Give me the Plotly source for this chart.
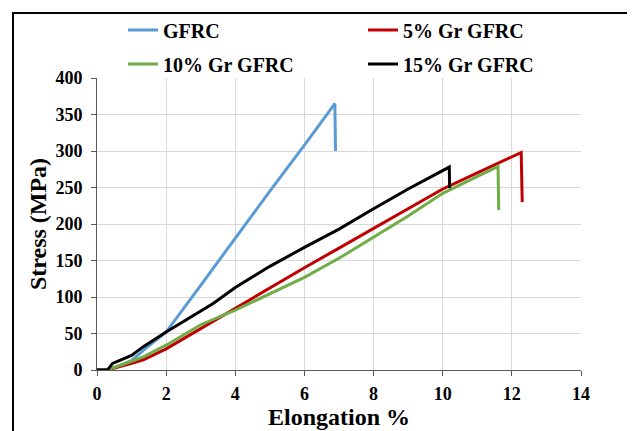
import plotly.graph_objects as go

# Data
series_names = ["GFRC", "5% Gr GFRC", "10% Gr GFRC", "15% Gr GFRC"]

gfrc_x = [0.0, 0.3, 0.6, 1.0, 1.34, 2.0, 3.0, 4.0, 5.0, 6.0, 6.88, 6.9]
gfrc_y = [0, 0, 5, 13, 27, 52, 116, 181, 245, 308, 365, 300]

gr5_x = [0.0, 0.3, 1.0, 1.34, 2.0, 3.0, 4.0, 5.0, 6.0, 7.0, 8.0, 9.0, 10.0, 11.0, 12.27, 12.3]
gr5_y = [0, 0, 9, 14, 29, 57, 85, 112, 140, 167, 194, 222, 248, 270, 298, 230]

gr10_x = [0.0, 0.3, 1.0, 1.34, 2.0, 3.0, 4.0, 5.0, 6.0, 7.0, 8.0, 9.0, 10.0, 11.0, 11.6, 11.62]
gr10_y = [0, 0, 12, 18, 34, 62, 82, 104, 127, 153, 182, 211, 242, 265, 279, 219]

gr15_x = [0.0, 0.3, 0.35, 0.45, 1.0, 1.34, 2.0, 2.78, 3.36, 4.0, 5.0, 6.0, 7.0, 8.0, 9.0, 10.19, 10.2]
gr15_y = [0, 0, 3, 9, 20, 32, 52, 74, 91, 113, 142, 168, 193, 221, 248, 278, 249]

x_ticks = [0, 2, 4, 6, 8, 10, 12, 14]
y_ticks = [0, 50, 100, 150, 200, 250, 300, 350, 400]

colors = ["#5B9BD5", "#C00000", "#70AD47", "#000000"]
xs = [gfrc_x, gr5_x, gr10_x, gr15_x]
ys = [gfrc_y, gr5_y, gr10_y, gr15_y]
legend_ids = ["legend", "legend2", "legend3", "legend4"]

FONT = "Liberation Serif, Times New Roman, serif"

fig = go.Figure()
for name, x, y, c, lg in zip(series_names, xs, ys, colors, legend_ids):
    fig.add_trace(go.Scatter(x=x, y=y, mode="lines", name=name, showlegend=True,
                             line=dict(color=c, width=3), legend=lg))

# the page body adds an 8px offset, so the figure is laid out in page coords - 8
OFF = 8
W, H = 635 - OFF, 431 - OFF
ml, mt = 97 - OFF, 78 - OFF
mr = W - (581 - OFF)
mb = H - (370 - OFF)
pw, ph = W - ml - mr, H - mt - mb

def px_to_paper_x(px):
    return (px - OFF - ml) / pw

def px_to_paper_y(py):
    return (H - mb - (py - OFF)) / ph

def legend_at(px, py):
    return dict(orientation="h", xref="container", yref="container",
                x=(px - OFF) / W, y=1 - (py - OFF) / H, xanchor="left", yanchor="middle",
                font=dict(family=FONT, size=20, color="black", weight="bold"),
                bgcolor="rgba(0,0,0,0)", borderwidth=0, visible=True)

axis_font = dict(family=FONT, size=18, color="black", weight="bold")
title_font = dict(family=FONT, size=24, color="black", weight="bold")

fig.update_layout(
    width=W, height=H, autosize=False, showlegend=True,
    margin=dict(l=ml, r=mr, t=mt, b=mb, pad=0, autoexpand=False),
    paper_bgcolor="white", plot_bgcolor="white",
    font=dict(family=FONT, color="black"),
    legend=legend_at(123, 30),
    legend2=legend_at(363, 30),
    legend3=legend_at(123, 64),
    legend4=legend_at(363, 64),
    xaxis=dict(range=[0, 14], tickvals=x_ticks, showgrid=True, gridcolor="#D9D9D9",
               gridwidth=1, zeroline=False, showline=True, linecolor="#595959",
               linewidth=1, ticks="outside", ticklen=5, tickcolor="#595959",
               tickfont=axis_font, ticklabelstandoff=2,
               title=dict(text="Elongation %", standoff=4, font=title_font),
               automargin=False),
    yaxis=dict(range=[0, 400], tickvals=y_ticks, showgrid=True, gridcolor="#D9D9D9",
               gridwidth=1, zeroline=False, showline=True, linecolor="#595959",
               linewidth=1, ticks="outside", ticklen=5, tickcolor="#595959",
               tickfont=axis_font, ticklabelstandoff=5,
               title=dict(text="Stress (MPa)", standoff=2, font=title_font),
               automargin=False),
    shapes=[dict(type="rect", xref="paper", yref="paper",
                 x0=px_to_paper_x(13), x1=px_to_paper_x(632),
                 y0=px_to_paper_y(445), y1=px_to_paper_y(13),
                 line=dict(color="black", width=2), fillcolor="rgba(0,0,0,0)",
                 layer="above")],
)

fig.write_html("out.html")
